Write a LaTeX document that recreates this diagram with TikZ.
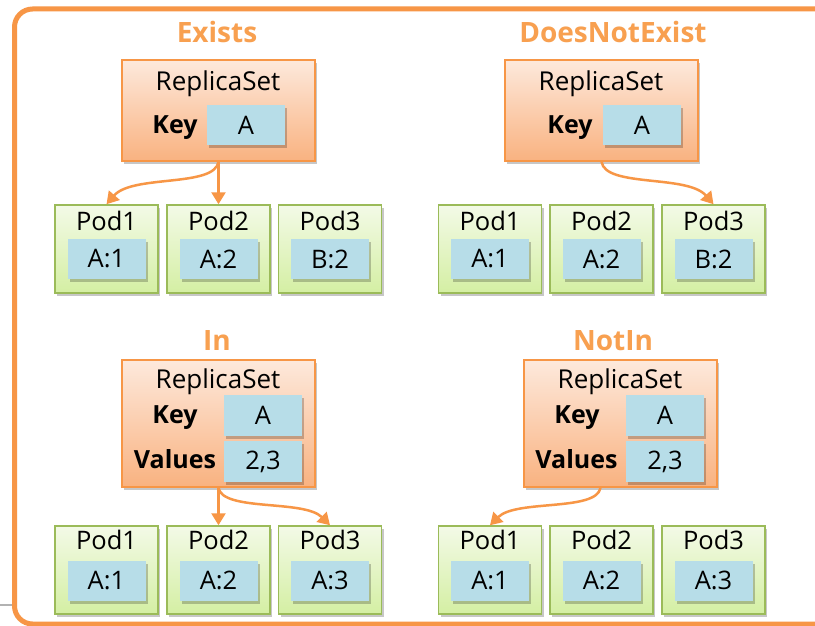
\documentclass[tikz,border=0pt]{standalone}
\usepackage{fontspec}
\setmainfont{Open Sans}
\usetikzlibrary{arrows.meta,shadows}
\definecolor{orng}{HTML}{F79646}
\definecolor{ttl}{HTML}{F8A050}
\definecolor{rstop}{HTML}{FDE9DC}
\definecolor{rsbot}{HTML}{F9B280}
\definecolor{podtop}{HTML}{F3FAE7}
\definecolor{podbot}{HTML}{D4EFA3}
\definecolor{podedge}{HTML}{9BBB59}
\definecolor{valblue}{HTML}{B7DDE8}
\begin{document}
\begin{tikzpicture}[x=1pt,y=-1pt,
  shd/.style={drop shadow={shadow xshift=2pt,shadow yshift=-3pt,opacity=0.22,fill=black}},
  rsbox/.style={draw=orng,line width=1.5pt,top color=rstop,bottom color=rsbot,minimum width=193pt,inner sep=0pt,shd},
  podbox/.style={draw=podedge,line width=1.5pt,top color=podtop,bottom color=podbot,minimum width=103pt,minimum height=88pt,inner sep=0pt,shd},
  valbox/.style={fill=valblue,minimum width=78pt,minimum height=40pt,inner sep=0pt,shd,font=\fontsize{25.5}{28}\selectfont},
  txt/.style={inner sep=0pt,anchor=base,font=\fontsize{25.5}{28}\selectfont},
  rstxt/.style={inner sep=0pt,anchor=base,font=\fontsize{26}{28}\selectfont},
  lbl/.style={inner sep=0pt,anchor=base,font=\fontsize{25}{27}\selectfont\bfseries},
  ttlstyle/.style={inner sep=0pt,anchor=base,text=ttl,font=\fontsize{28}{30}\selectfont\bfseries},
  arr/.style={draw=orng,line width=2.5pt,-{Triangle[width=14pt,length=12pt]}}
]
\useasboundingbox (0,0) rectangle (815,626);
\clip (0,0) rectangle (815,626);
\fill[white] (0,0) rectangle (815,626);
% frame
\draw[orng,line width=5pt,rounded corners=18pt] (14.5,9) rectangle (850,624);
\draw[gray!60,line width=2.5pt] (0,605) -- (12,605);

% ===== Exists =====
\node[ttlstyle] (t1) at (217,43) {Exists};
\node[rsbox,minimum height=101pt] (rs1) at (218.5,110.5) {};
\node[rstxt] (rs1t) at (218,91) {ReplicaSet};
\node[lbl] (k1) at (175,133) {Key};
\node[valbox] (k1v) at (246,125) {A};
\foreach \i/\x/\v in {1/106.5/A:1,2/218.5/A:2,3/330/B:2}{
  \node[podbox] (pa\i) at (\x,249) {};
  \node[txt] (pa\i t) at (\x,230) {Pod\i};
  \node[valbox] (pa\i v) at (\x,259) {\v};
}
\draw[arr] (rs1.south) -- (pa2.north);
\draw[arr] (rs1.south) .. controls +(-4,26) and +(26,-30) .. (pa1.north);

% ===== DoesNotExist =====
\node[ttlstyle] (t2) at (613,43) {DoesNotExist};
\node[rsbox,minimum height=101pt] (rs2) at (601.5,110.5) {};
\node[rstxt] (rs2t) at (601,91) {ReplicaSet};
\node[lbl] (k2) at (570,133) {Key};
\node[valbox] (k2v) at (642,125) {A};
\foreach \i/\x/\v in {1/490/A:1,2/601.5/A:2,3/713.5/B:2}{
  \node[podbox] (pb\i) at (\x,249) {};
  \node[txt] (pb\i t) at (\x,230) {Pod\i};
  \node[valbox] (pb\i v) at (\x,259) {\v};
}
\draw[arr] (rs2.south) .. controls +(4,26) and +(-26,-30) .. (pb3.north);

% ===== In =====
\node[ttlstyle] (t3) at (217,350) {In};
\node[rsbox,minimum height=127pt] (rs3) at (218.5,423.5) {};
\node[rstxt] (rs3t) at (218,388) {ReplicaSet};
\node[lbl] (k3) at (175,423) {Key};
\node[valbox,minimum height=41pt] (k3v) at (263,415.5) {A};
\node[lbl] (v3) at (175,468) {Values};
\node[valbox,minimum height=41pt] (v3v) at (263,461.5) {2,3};
\foreach \i/\x/\v in {1/106.5/A:1,2/218.5/A:2,3/330/A:3}{
  \node[podbox] (pc\i) at (\x,570) {};
  \node[txt] (pc\i t) at (\x,549) {Pod\i};
  \node[valbox] (pc\i v) at (\x,580.5) {\v};
}
\draw[arr] (rs3.south) -- (pc2.north);
\draw[arr] (rs3.south) .. controls +(4,24) and +(-26,-26) .. (pc3.north);

% ===== NotIn =====
\node[ttlstyle] (t4) at (613,350) {NotIn};
\node[rsbox,minimum height=127pt] (rs4) at (620.5,423.5) {};
\node[rstxt] (rs4t) at (620,388) {ReplicaSet};
\node[lbl] (k4) at (577,423) {Key};
\node[valbox,minimum height=41pt] (k4v) at (665,415.5) {A};
\node[lbl] (v4) at (576.5,468) {Values};
\node[valbox,minimum height=41pt] (v4v) at (665,461.5) {2,3};
\foreach \i/\x/\v in {1/490/A:1,2/601.5/A:2,3/713.5/A:3}{
  \node[podbox] (pd\i) at (\x,570) {};
  \node[txt] (pd\i t) at (\x,549) {Pod\i};
  \node[valbox] (pd\i v) at (\x,580.5) {\v};
}
\draw[arr] ([xshift=-20pt]rs4.south) .. controls +(-4,24) and +(26,-26) .. (pd1.north);
\end{tikzpicture}
\end{document}
